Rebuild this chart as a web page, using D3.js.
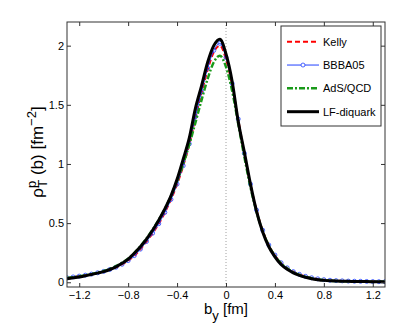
<!doctype html>
<html>
<head>
<meta charset="utf-8">
<script src="https://d3js.org/d3.v7.min.js"></script>
<style>
  body { margin: 0; background: #fff; }
  text { font-family: "Liberation Sans", Arial, sans-serif; }
</style>
</head>
<body>
<script>

// impact parameter grid (fm)
var bValues = [-1.30,-1.25,-1.20,-1.15,-1.10,-1.05,-1.00,-0.95,-0.90,-0.85,-0.80,-0.75,-0.70,-0.65,-0.60,-0.55,-0.50,-0.45,-0.40,-0.35,-0.30,-0.25,-0.20,-0.15,-0.10,-0.05,
                0.00,0.05,0.10,0.15,0.20,0.25,0.30,0.35,0.40,0.45,0.50,0.55,0.60,0.65,0.70,0.75,0.80,0.85,0.90,0.95,1.00,1.05,1.10,1.15,1.20,1.25,1.30];

var kelly = [0.037,0.044,0.051,0.059,0.068,0.079,0.091,0.107,0.126,0.151,0.182,0.224,0.279,0.344,0.414,0.494,0.589,0.699,0.828,0.982,1.165,1.390,1.600,1.795,1.945,2.000,
             1.885,1.670,1.375,1.088,0.828,0.608,0.438,0.313,0.228,0.164,0.121,0.089,0.066,0.049,0.037,0.028,0.021,0.016,0.013,0.011,0.009,0.008,0.007,0.006,0.006,0.005,0.005];

var bbba05 = [0.038,0.045,0.052,0.060,0.069,0.080,0.092,0.108,0.127,0.152,0.183,0.225,0.280,0.345,0.415,0.495,0.590,0.700,0.830,0.985,1.170,1.400,1.610,1.810,1.960,2.020,
              1.900,1.680,1.380,1.090,0.830,0.610,0.440,0.315,0.230,0.165,0.122,0.090,0.067,0.050,0.038,0.029,0.022,0.017,0.014,0.012,0.010,0.009,0.008,0.007,0.006,0.005,0.005];

var adsqcd = [0.035,0.042,0.050,0.059,0.069,0.081,0.095,0.113,0.136,0.165,0.200,0.247,0.305,0.370,0.445,0.528,0.620,0.728,0.855,1.000,1.165,1.350,1.540,1.720,1.860,1.915,
              1.820,1.620,1.340,1.060,0.805,0.595,0.430,0.310,0.222,0.160,0.116,0.085,0.062,0.046,0.034,0.025,0.019,0.014,0.011,0.009,0.008,0.007,0.006,0.005,0.005,0.004,0.004];

var lfDiquark = [0.030,0.038,0.045,0.055,0.065,0.077,0.090,0.108,0.130,0.160,0.195,0.245,0.300,0.365,0.440,0.525,0.620,0.730,0.870,1.040,1.220,1.470,1.660,1.860,2.000,2.055,
                 1.930,1.700,1.360,1.100,0.830,0.600,0.425,0.300,0.215,0.150,0.110,0.080,0.058,0.042,0.030,0.022,0.016,0.012,0.010,0.009,0.008,0.007,0.006,0.006,0.005,0.004,0.003];

var xTicks = [-1.2, -0.8, -0.4, 0, 0.4, 0.8, 1.2];
var yTicks = [0, 0.5, 1, 1.5, 2];
var seriesNames = ['Kelly', 'BBBA05', 'AdS/QCD', 'LF-diquark'];

var width = 409, height = 327;
var margin = {left: 67, right: 24, top: 22, bottom: 40};

var svg = d3.select('body').append('svg')
    .attr('width', width)
    .attr('height', height);

var x = d3.scaleLinear().domain([-1.3, 1.3]).range([margin.left, width - margin.right]);
var y = d3.scaleLinear().domain([-0.04, 2.2]).range([height - margin.bottom, margin.top]);

var fmt = function (d) { return d3.format('')(d).replace('-', '\u2212'); };

// clip to plot area
svg.append('clipPath').attr('id', 'clip')
   .append('rect')
   .attr('x', x.range()[0]).attr('y', y.range()[1])
   .attr('width', x.range()[1] - x.range()[0])
   .attr('height', y.range()[0] - y.range()[1]);

// dotted line at b = 0
svg.append('line')
   .attr('x1', x(0)).attr('x2', x(0))
   .attr('y1', y.range()[1]).attr('y2', y.range()[0])
   .attr('stroke', '#888')
   .attr('stroke-width', 0.8)
   .attr('stroke-dasharray', '1,2');

var plot = svg.append('g').attr('clip-path', 'url(#clip)');

function makeLine(vals) {
  return d3.line()
    .x(function (d, i) { return x(bValues[i]); })
    .y(function (d) { return y(d); })
    .curve(d3.curveMonotoneX)(vals);
}

var styles = [
  {data: kelly, color: '#ff0000', width: 2, dash: '5,3'},
  {data: bbba05, color: '#2040ff', width: 1, dash: null},
  {data: adsqcd, color: '#1a9a1a', width: 2.5, dash: '6,2,2,2'},
  {data: lfDiquark, color: '#000000', width: 3, dash: null}
];

styles.forEach(function (s, k) {
  plot.append('path')
      .attr('d', makeLine(s.data))
      .attr('fill', 'none')
      .attr('stroke', s.color)
      .attr('stroke-width', s.width)
      .attr('stroke-dasharray', s.dash);
  if (k === 1) {
    plot.selectAll('circle.bbba')
        .data(s.data)
        .enter().append('circle')
        .attr('class', 'bbba')
        .attr('cx', function (d, i) { return x(bValues[i]); })
        .attr('cy', function (d) { return y(d); })
        .attr('r', 2)
        .attr('fill', 'none')
        .attr('stroke', s.color)
        .attr('stroke-width', 0.8);
  }
});

// axes with inward ticks on all four sides
var frameColor = '#333';
var axBottom = svg.append('g')
   .attr('transform', 'translate(0,' + y.range()[0] + ')')
   .call(d3.axisBottom(x).tickValues(xTicks).tickSize(-4).tickPadding(4).tickFormat(fmt));
var axTop = svg.append('g')
   .attr('transform', 'translate(0,' + y.range()[1] + ')')
   .call(d3.axisTop(x).tickValues(xTicks).tickSize(-4).tickFormat(''));
var axLeft = svg.append('g')
   .attr('transform', 'translate(' + x.range()[0] + ',0)')
   .call(d3.axisLeft(y).tickValues(yTicks).tickSize(-4).tickPadding(3).tickFormat(d3.format('')));
var axRight = svg.append('g')
   .attr('transform', 'translate(' + x.range()[1] + ',0)')
   .call(d3.axisRight(y).tickValues(yTicks).tickSize(-4).tickFormat(''));

[axBottom, axTop, axLeft, axRight].forEach(function (g) {
  g.select('.domain').remove();
  g.selectAll('line').attr('stroke', frameColor);
  g.selectAll('text').attr('fill', '#000').style('font-size', '11px')
   .style('font-family', '"Liberation Sans", Arial, sans-serif');
});

svg.append('rect')
   .attr('x', x.range()[0]).attr('y', y.range()[1])
   .attr('width', x.range()[1] - x.range()[0])
   .attr('height', y.range()[0] - y.range()[1])
   .attr('fill', 'none')
   .attr('stroke', frameColor)
   .attr('stroke-width', 1);

// axis labels
var xl = svg.append('text')
   .attr('x', x(0))
   .attr('y', 314)
   .attr('text-anchor', 'middle')
   .style('font-size', '15px');
xl.append('tspan').text('b');
xl.append('tspan').attr('dy', 6).style('font-size', '13px').text('y');
xl.append('tspan').attr('dy', -6).text(' [fm]');

var yl = svg.append('text')
   .attr('transform', 'translate(43,152) rotate(-90)')
   .attr('text-anchor', 'middle')
   .style('font-size', '17px');
yl.append('tspan').text('\u03C1');
yl.append('tspan').attr('dy', -7).style('font-size', '13px').text('p');
yl.append('tspan').attr('dx', -7).attr('dy', 11).style('font-size', '13px').text('T');
yl.append('tspan').attr('dy', -4).text(' (b) [fm');
yl.append('tspan').attr('dy', -7).style('font-size', '13px').text('\u22122');
yl.append('tspan').attr('dy', 7).text(']');

// legend
var legend = svg.append('g');
legend.append('rect')
   .attr('x', 281).attr('y', 26)
   .attr('width', 100).attr('height', 100)
   .attr('fill', '#fff')
   .attr('stroke', frameColor)
   .attr('stroke-width', 1);

var legendY = d3.scalePoint().domain(seriesNames).range([41.7, 111.7]);

seriesNames.forEach(function (name, k) {
  var s = styles[k];
  var ly = legendY(name);
  legend.append('line')
     .attr('x1', 287).attr('x2', 319)
     .attr('y1', ly).attr('y2', ly)
     .attr('stroke', s.color)
     .attr('stroke-width', s.width)
     .attr('stroke-dasharray', s.dash);
  if (k === 1) {
    legend.append('circle')
       .attr('cx', 303).attr('cy', ly).attr('r', 2)
       .attr('fill', '#fff').attr('stroke', s.color).attr('stroke-width', 0.8);
  }
  legend.append('text')
     .attr('x', 323).attr('y', ly + 4)
     .style('font-size', '11px')
     .text(name);
});

</script>
</body>
</html>
